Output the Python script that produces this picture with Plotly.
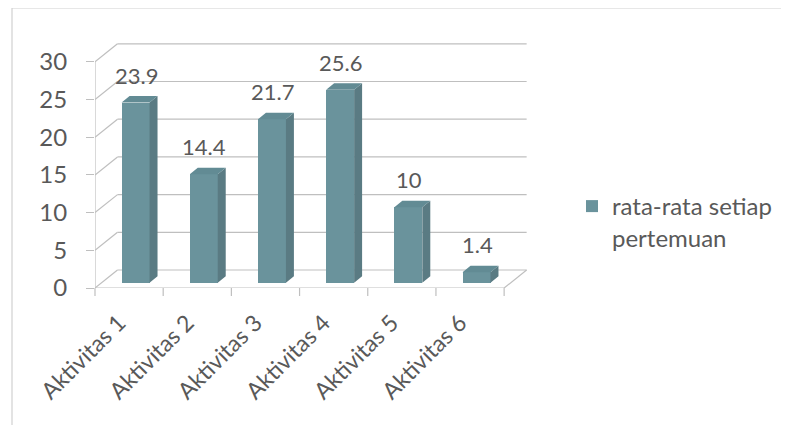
import plotly.graph_objects as go

# ---------------- data ----------------
categories = ["Aktivitas 1", "Aktivitas 2", "Aktivitas 3", "Aktivitas 4", "Aktivitas 5", "Aktivitas 6"]
values = [23.9, 14.4, 21.7, 25.6, 10, 1.4]
value_labels = ["23.9", "14.4", "21.7", "25.6", "10", "1.4"]
y_ticks = [0, 5, 10, 15, 20, 25, 30]
series_name = "rata-rata setiap<br>pertemuan"

# ---------------- layout constants ----------------
W, H = 789, 425
OFF = 8                                  # page body margin
ML, MT = 95 - OFF, 43 - OFF
PW, PH = 433, 245
MR, MB = W - ML - PW, H - MT - PH
X_RANGE = [-0.5, 5.85]
Y_RANGE = [0, 32.5]
DEPTH_X, DEPTH_Y = 0.33, 2.39          # back-wall offset (data units)
BAR_OFF, BAR_W, BAR_BASE = 0.095, 0.41, 0.7
BAR_DX, BAR_DY = 0.117, 0.86            # bar depth
FRONT, SIDE, TOP = "#6A939C", "#5A7B83", "#628B94"
GRID = "#BFBFBF"
TXT = "#595959"
FONT = "Lato"


def px_x(px):
    return (px - OFF - ML) / PW


def px_y(py):
    return (MT + PH - (py - OFF)) / PH


fig = go.Figure()

# front faces
xs = [i + BAR_OFF for i in range(len(values))]
fig.add_trace(go.Bar(
    x=xs, y=values, base=BAR_BASE, width=BAR_W,
    marker=dict(color=FRONT, line=dict(width=0)),
    name=series_name, showlegend=True, hoverinfo="skip",
))

# side and top faces
sx, sy, tx, ty = [], [], [], []
for x0, v in zip(xs, values):
    xl, xr = x0 - BAR_W / 2, x0 + BAR_W / 2
    b, t = BAR_BASE, BAR_BASE + v
    sx += [xr, xr + BAR_DX, xr + BAR_DX, xr, xr, None]
    sy += [b, b + BAR_DY, t + BAR_DY, t, b, None]
    tx += [xl, xl + BAR_DX, xr + BAR_DX, xr, xl, None]
    ty += [t, t + BAR_DY, t + BAR_DY, t, t, None]
fig.add_trace(go.Scatter(x=sx, y=sy, fill="toself", fillcolor=SIDE, mode="lines",
                         line=dict(width=0, color=SIDE), showlegend=False, hoverinfo="skip"))
fig.add_trace(go.Scatter(x=tx, y=ty, fill="toself", fillcolor=TOP, mode="lines",
                         line=dict(width=0, color=TOP), showlegend=False, hoverinfo="skip"))

shapes = []
x0f, x1f = X_RANGE[0], len(categories) - 0.5
gl = dict(color=GRID, width=1.2)
# gridlines: left wall diagonal + back wall horizontal
for v in y_ticks:
    shapes.append(dict(type="line", xref="x", yref="y", x0=x0f, y0=v, x1=x0f + DEPTH_X, y1=v + DEPTH_Y,
                       line=gl, layer="below"))
    shapes.append(dict(type="line", xref="x", yref="y", x0=x0f + DEPTH_X, y0=v + DEPTH_Y,
                       x1=x1f + DEPTH_X, y1=v + DEPTH_Y, line=gl, layer="below"))
# front vertical axis
shapes.append(dict(type="line", xref="x", yref="y", x0=x0f, y0=0, x1=x0f, y1=y_ticks[-1],
                   line=gl, layer="below"))
# floor front edge and right diagonal
shapes.append(dict(type="line", xref="x", yref="y", x0=x0f, y0=0, x1=x1f, y1=0, line=gl, layer="below"))
shapes.append(dict(type="line", xref="x", yref="y", x0=x1f, y0=0, x1=x1f + DEPTH_X, y1=DEPTH_Y,
                   line=gl, layer="below"))
# category boundary ticks below the floor
xspan = X_RANGE[1] - X_RANGE[0]
for k in range(len(categories) + 1):
    xp = (k - 0.5 - X_RANGE[0]) / xspan
    shapes.append(dict(type="line", xref="paper", yref="paper", x0=xp, y0=0, x1=xp, y1=-8 / PH, line=gl))
# outer chart frame (cut off at right and bottom)
frame = dict(color="#D0D0D0", width=1.2)
shapes.append(dict(type="line", xref="paper", yref="paper", x0=px_x(12), y0=px_y(8), x1=px_x(800), y1=px_y(8),
                   line=frame))
shapes.append(dict(type="line", xref="paper", yref="paper", x0=px_x(12), y0=px_y(8), x1=px_x(12), y1=px_y(440),
                   line=frame))

annotations = []
for x0, v, lab in zip(xs, values, value_labels):
    annotations.append(dict(x=x0 + 0.01, y=BAR_BASE + v + BAR_DY, xref="x", yref="y", text=lab,
                            showarrow=False, yanchor="middle", yshift=21,
                            font=dict(family=FONT, size=22, color=TXT)))

fig.update_layout(
    width=W, height=H,
    margin=dict(l=ML, r=MR, t=MT, b=MB, pad=0),
    paper_bgcolor="white", plot_bgcolor="rgba(0,0,0,0)",
    shapes=shapes, annotations=annotations,
    showlegend=True,
    legend=dict(x=px_x(572), y=px_y(184), xanchor="left", yanchor="top", valign="top",
                font=dict(family=FONT, size=24, color=TXT), bgcolor="rgba(0,0,0,0)"),
    xaxis=dict(range=X_RANGE, tickmode="array", tickvals=list(range(len(categories))), ticktext=categories,
               tickangle=-45, showgrid=False, zeroline=False, showline=False, ticks="",
               ticklabelstandoff=16, ticklabelshift=-10,
               tickfont=dict(family=FONT, size=23, color=TXT), fixedrange=True),
    yaxis=dict(range=Y_RANGE, tickmode="array", tickvals=y_ticks, showgrid=False, zeroline=False,
               showline=False, ticks="outside", ticklen=8, tickcolor=GRID, tickwidth=1.2,
               ticklabelstandoff=14, tickfont=dict(family=FONT, size=24, color=TXT), fixedrange=True),
    bargap=0,
)

fig.write_html("out.html")
